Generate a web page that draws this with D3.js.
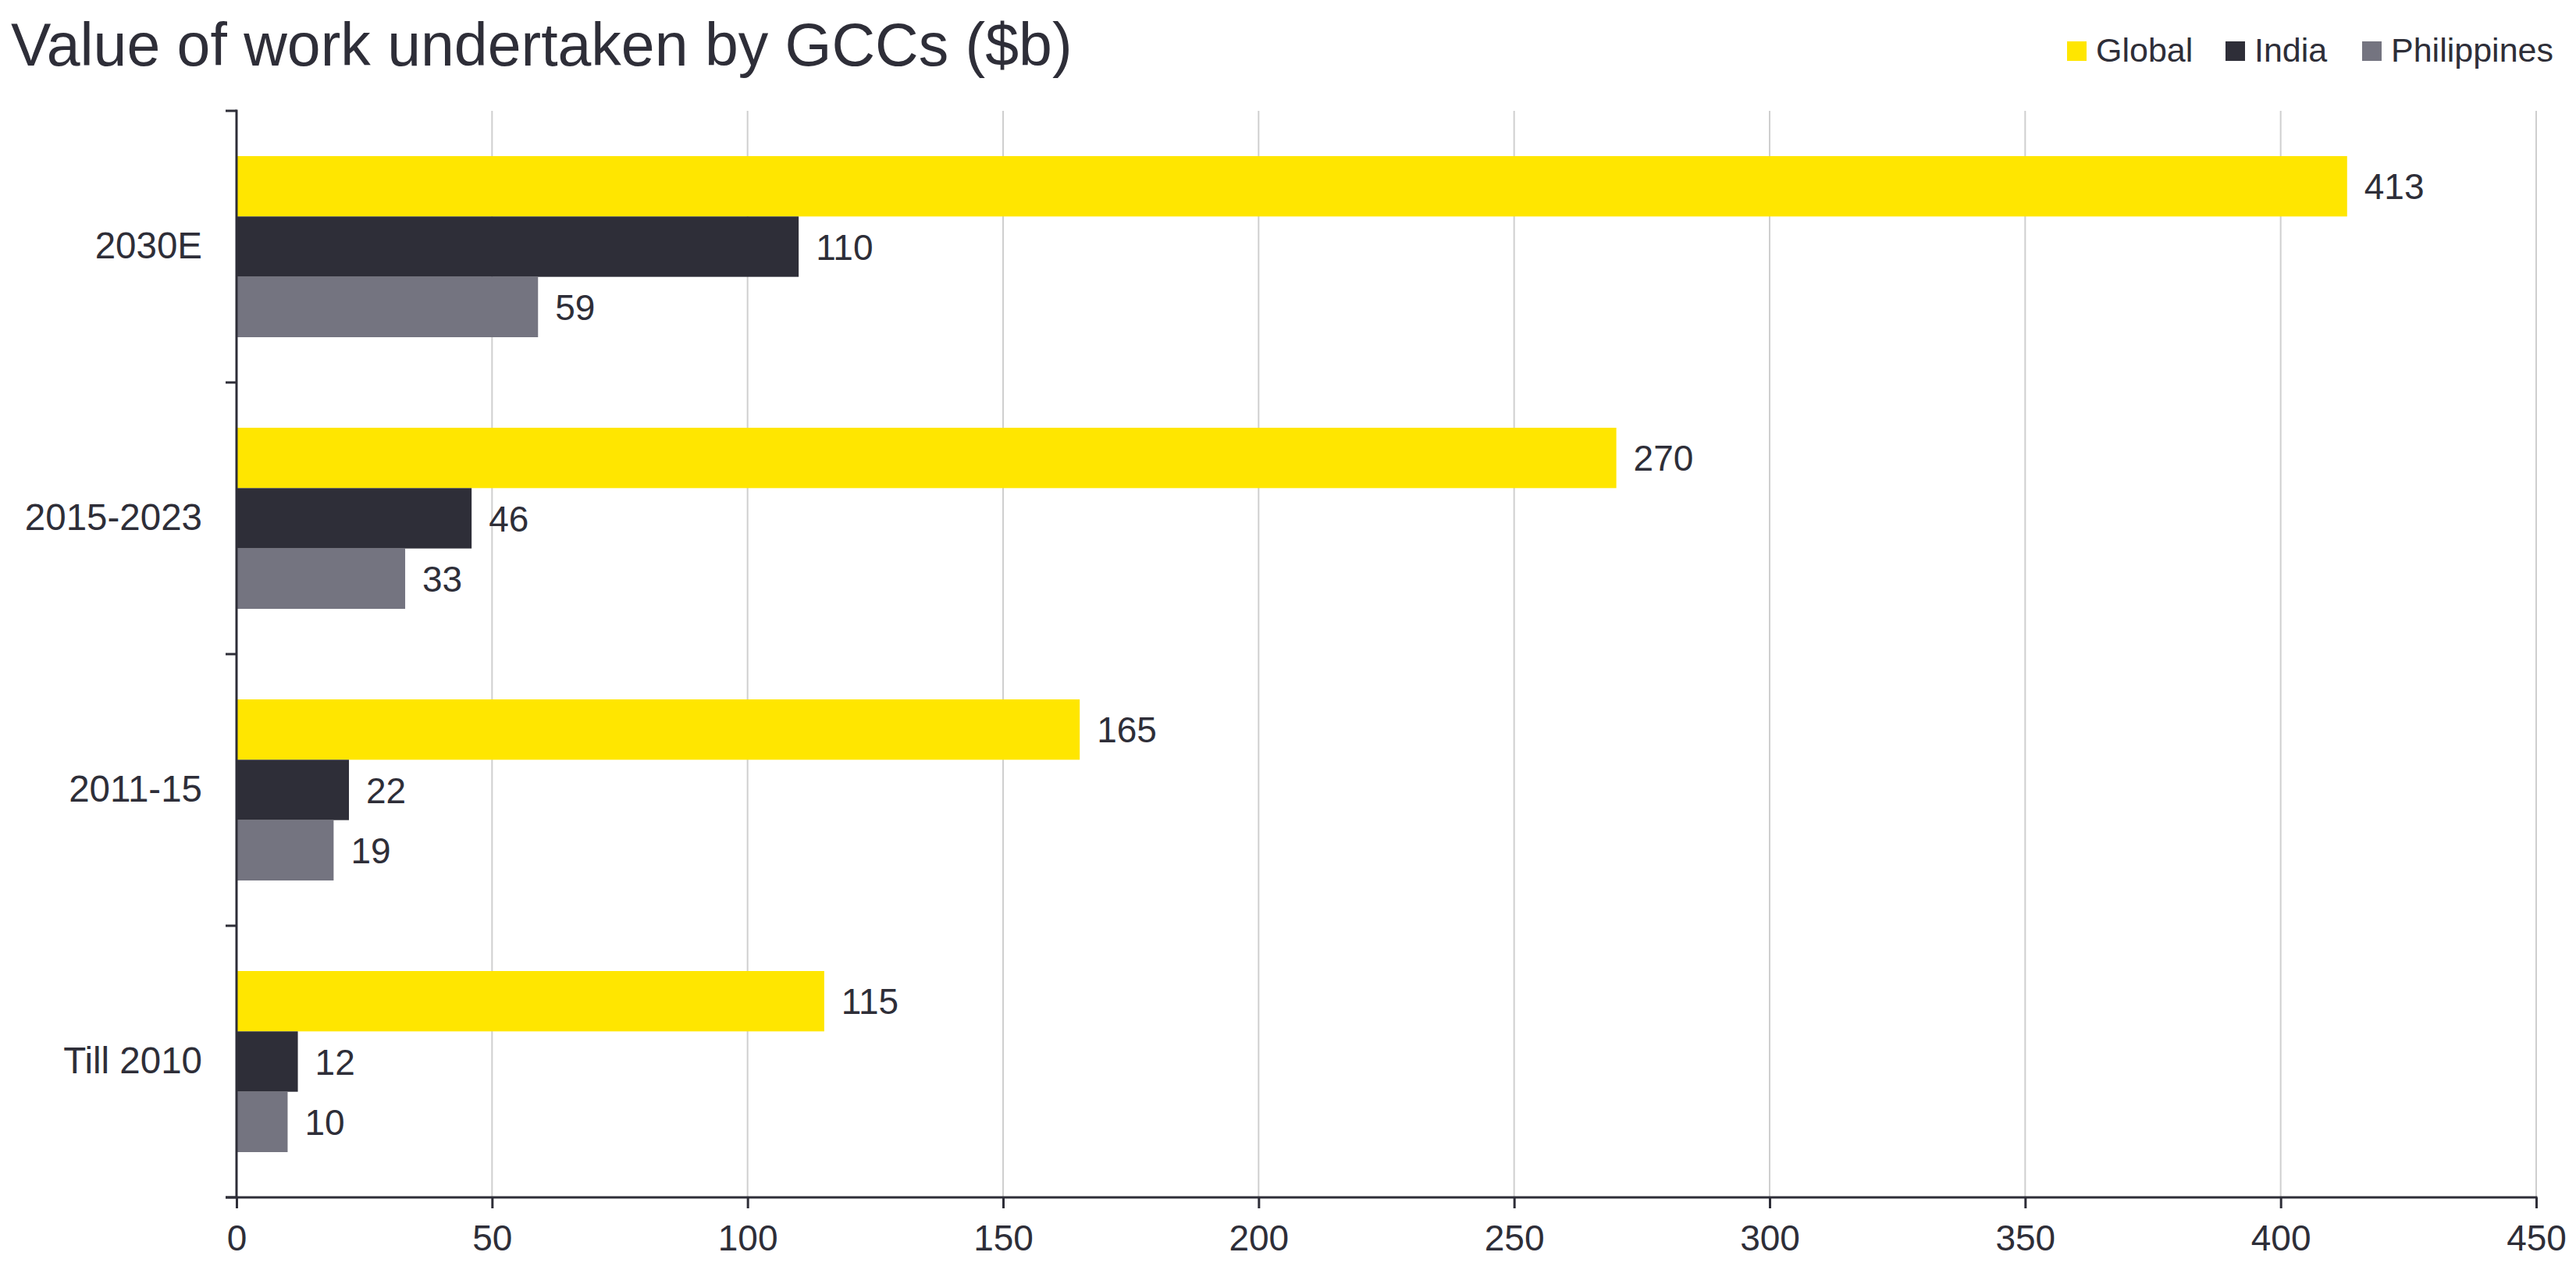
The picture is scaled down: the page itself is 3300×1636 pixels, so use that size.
<!DOCTYPE html>
<html>
<head>
<meta charset="utf-8">
<script src="https://cdn.jsdelivr.net/npm/d3@7"></script>
<style>
  html, body { margin: 0; padding: 0; background: #ffffff; }
  svg { display: block; }
  text { font-family: "Liberation Sans", Arial, sans-serif; fill: #2e2e38; }
</style>
</head>
<body>
<script>
// ---- data ----
const categories = ["2030E", "2015-2023", "2011-15", "Till 2010"];
const seriesNames = ["Global", "India", "Philippines"];
const globalValues = [413, 270, 165, 115];
const indiaValues = [110, 46, 22, 12];
const philippinesValues = [59, 33, 19, 10];
const xTickValues = [0, 50, 100, 150, 200, 250, 300, 350, 400, 450];
const titleText = "Value of work undertaken by GCCs ($b)";

const seriesColors = ["#FFE600", "#2E2E38", "#747480"];
const seriesValues = [globalValues, indiaValues, philippinesValues];

const W = 3300, H = 1636;
const svg = d3.select("body").append("svg").attr("width", W).attr("height", H);

const x = d3.scaleLinear().domain([0, 450]).range([303, 3249]);
const y = d3.scaleBand().domain(categories).range([142, 1534]).padding(0);
const ySub = d3.scaleBand().domain(seriesNames).range([0, y.bandwidth()])
  .paddingInner(0).paddingOuter(0.75);

const axisColor = "#2e2e38";

// gridlines
svg.append("g").selectAll("line").data(xTickValues.filter(d => d > 0)).join("line")
  .attr("x1", d => x(d)).attr("x2", d => x(d))
  .attr("y1", y.range()[0]).attr("y2", y.range()[1])
  .attr("stroke", "#cfcfcf").attr("stroke-width", 2);

// bars
const rows = [];
categories.forEach((c, i) => {
  seriesNames.forEach((s, j) => rows.push({ cat: c, ser: s, val: seriesValues[j][i], color: seriesColors[j] }));
});

svg.append("g").selectAll("rect").data(rows).join("rect")
  .attr("x", x(0))
  .attr("y", d => y(d.cat) + ySub(d.ser))
  .attr("width", d => x(d.val) - x(0))
  .attr("height", ySub.bandwidth())
  .attr("fill", d => d.color);

// value labels
svg.append("g").selectAll("text").data(rows).join("text")
  .attr("x", d => x(d.val) + 22)
  .attr("y", d => y(d.cat) + ySub(d.ser) + ySub.bandwidth() / 2)
  .attr("dy", "0.36em")
  .attr("font-size", 46)
  .text(d => d.val);

// x axis
const xAxis = d3.axisBottom(x).tickValues(xTickValues).tickSize(14).tickSizeOuter(0).tickPadding(21);
const gx = svg.append("g").attr("transform", `translate(0,${y.range()[1]})`).call(xAxis);
gx.select(".domain").remove();
gx.selectAll(".tick line").attr("stroke", axisColor).attr("stroke-width", 3);
gx.selectAll(".tick text").attr("font-size", 46).attr("fill", axisColor)
  .style("font-family", "'Liberation Sans', Arial, sans-serif");
gx.append("line").attr("x1", x(0) - 14).attr("x2", x(450) + 1.5).attr("y1", 0).attr("y2", 0)
  .attr("stroke", axisColor).attr("stroke-width", 3);

// y axis
const yAxis = d3.axisLeft(y).tickSize(0).tickPadding(44);
const gy = svg.append("g").attr("transform", `translate(${x(0)},0)`).call(yAxis);
gy.select(".domain").remove();
gy.selectAll(".tick text").attr("font-size", 47.5).attr("fill", axisColor)
  .style("font-family", "'Liberation Sans', Arial, sans-serif");
gy.append("line").attr("x1", 0).attr("x2", 0).attr("y1", y.range()[0] - 1.5).attr("y2", y.range()[1])
  .attr("stroke", axisColor).attr("stroke-width", 3);
const boundaries = categories.map(c => y(c)).concat([y.range()[1]]);
gy.append("g").selectAll("line").data(boundaries).join("line")
  .attr("x1", -14).attr("x2", 0).attr("y1", d => d).attr("y2", d => d)
  .attr("stroke", axisColor).attr("stroke-width", 3);

// title
svg.append("text").attr("x", 14).attr("y", 84).attr("font-size", 77).text(titleText);

// legend
const legendX = [2648, 2851, 3026];
const lg = svg.append("g").selectAll("g").data(seriesNames).join("g")
  .attr("transform", (d, i) => `translate(${legendX[i]},53)`);
lg.append("rect").attr("width", 25).attr("height", 25).attr("fill", (d, i) => seriesColors[i]);
lg.append("text").attr("x", 37).attr("y", 26).attr("font-size", 43).text(d => d);
</script>
</body>
</html>
